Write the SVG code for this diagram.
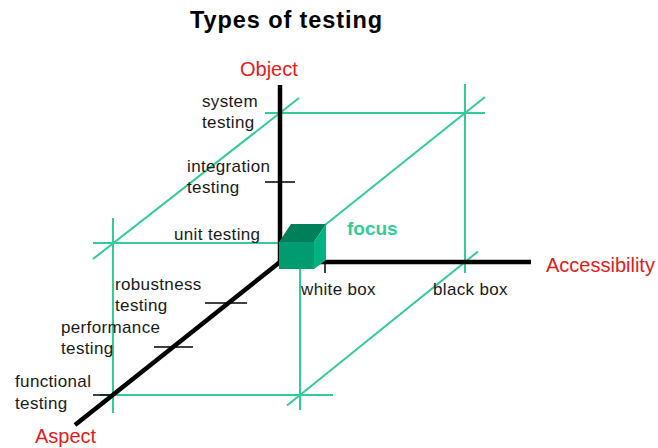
<svg xmlns="http://www.w3.org/2000/svg" width="658" height="448" viewBox="0 0 658 448">
  <style>
    .guide { stroke: #33cc99; stroke-width: 2; fill: none; }
    .axis { stroke: #000; stroke-width: 4.5; fill: none; }
    .tick { stroke: #000; stroke-width: 1.5; fill: none; }
    .lbl { font-family: "Liberation Sans", Arial, sans-serif; font-size: 17px; letter-spacing: 0.35px; fill: #1a1a1a; }
    .axname { font-family: "Liberation Sans", Arial, sans-serif; font-size: 20px; fill: #e02020; }
    .title { font-family: "Liberation Sans", Arial, sans-serif; font-size: 23.5px; font-weight: bold; fill: #000; }
    .focus { font-family: "Liberation Sans", Arial, sans-serif; font-size: 19px; font-weight: bold; fill: #33cc99; }
  </style>

  <rect width="658" height="448" fill="#fff"/>

  <text id="title" class="title" x="190" y="28" textLength="192" lengthAdjust="spacing">Types of testing</text>

  <!-- green projection lines -->
  <g id="connectors">
    <line class="guide" x1="265" y1="113" x2="485" y2="113"/>
    <line class="guide" x1="299" y1="98" x2="93" y2="259"/>
    <line class="guide" x1="93" y1="243" x2="282" y2="243"/>
    <line class="guide" x1="113" y1="218" x2="113" y2="413"/>
    <line class="guide" x1="100" y1="395" x2="333" y2="395"/>
    <line class="guide" x1="300" y1="262" x2="300" y2="410"/>
    <line class="guide" x1="478" y1="251.5" x2="287" y2="405.5"/>
    <line class="guide" x1="465" y1="84" x2="465" y2="273"/>
    <line class="guide" x1="325" y1="225" x2="485" y2="97"/>
  </g>

  <!-- axes -->
  <g id="axes">
    <line class="axis" x1="280" y1="85" x2="280" y2="262"/>
    <line class="axis" x1="280" y1="262" x2="531" y2="262"/>
    <line class="axis" x1="280" y1="262" x2="75" y2="425"/>
  </g>

  <!-- scale ticks -->
  <g id="ticks">
    <line class="tick" x1="265" y1="182" x2="295" y2="182"/>
    <line class="tick" x1="325" y1="257" x2="325" y2="273"/>
    <line class="tick" x1="205" y1="303" x2="247" y2="303"/>
    <line class="tick" x1="154" y1="347" x2="193" y2="347"/>
    <line class="tick" x1="93" y1="395" x2="113" y2="395"/>
  </g>

  <!-- focus cube at the origin -->
  <g id="cube">
    <polygon points="279,242 291,224 326,224 314,242" fill="#00805a"/>
    <polygon points="314,242 326,224 326,260 314,269" fill="#00b380"/>
    <rect x="279" y="242" width="35" height="27" fill="#009b6e"/>
  </g>

  <!-- axis names -->
  <g id="axis-names">
    <text id="object" class="axname" x="240" y="76">Object</text>
    <text id="accessibility" class="axname" x="546" y="272">Accessibility</text>
    <text id="aspect" class="axname" x="35" y="443">Aspect</text>
  </g>

  <text id="focus" class="focus" x="347" y="235">focus</text>

  <!-- object levels -->
  <g id="system-testing"><text class="lbl" x="202" y="107">system</text><text class="lbl" x="202" y="128">testing</text></g>
  <g id="integration-testing"><text class="lbl" x="187" y="172">integration</text><text class="lbl" x="187" y="193">testing</text></g>
  <g id="unit-testing"><text class="lbl" x="174" y="240">unit testing</text></g>

  <!-- aspect levels -->
  <g id="robustness-testing"><text class="lbl" x="115" y="290">robustness</text><text class="lbl" x="115" y="311">testing</text></g>
  <g id="performance-testing"><text class="lbl" x="61" y="333">performance</text><text class="lbl" x="61" y="354">testing</text></g>
  <g id="functional-testing"><text class="lbl" x="15" y="387">functional</text><text class="lbl" x="15" y="409">testing</text></g>

  <!-- accessibility levels -->
  <g id="white-box"><text class="lbl" x="301" y="295">white box</text></g>
  <g id="black-box"><text class="lbl" x="433" y="295">black box</text></g>
</svg>
